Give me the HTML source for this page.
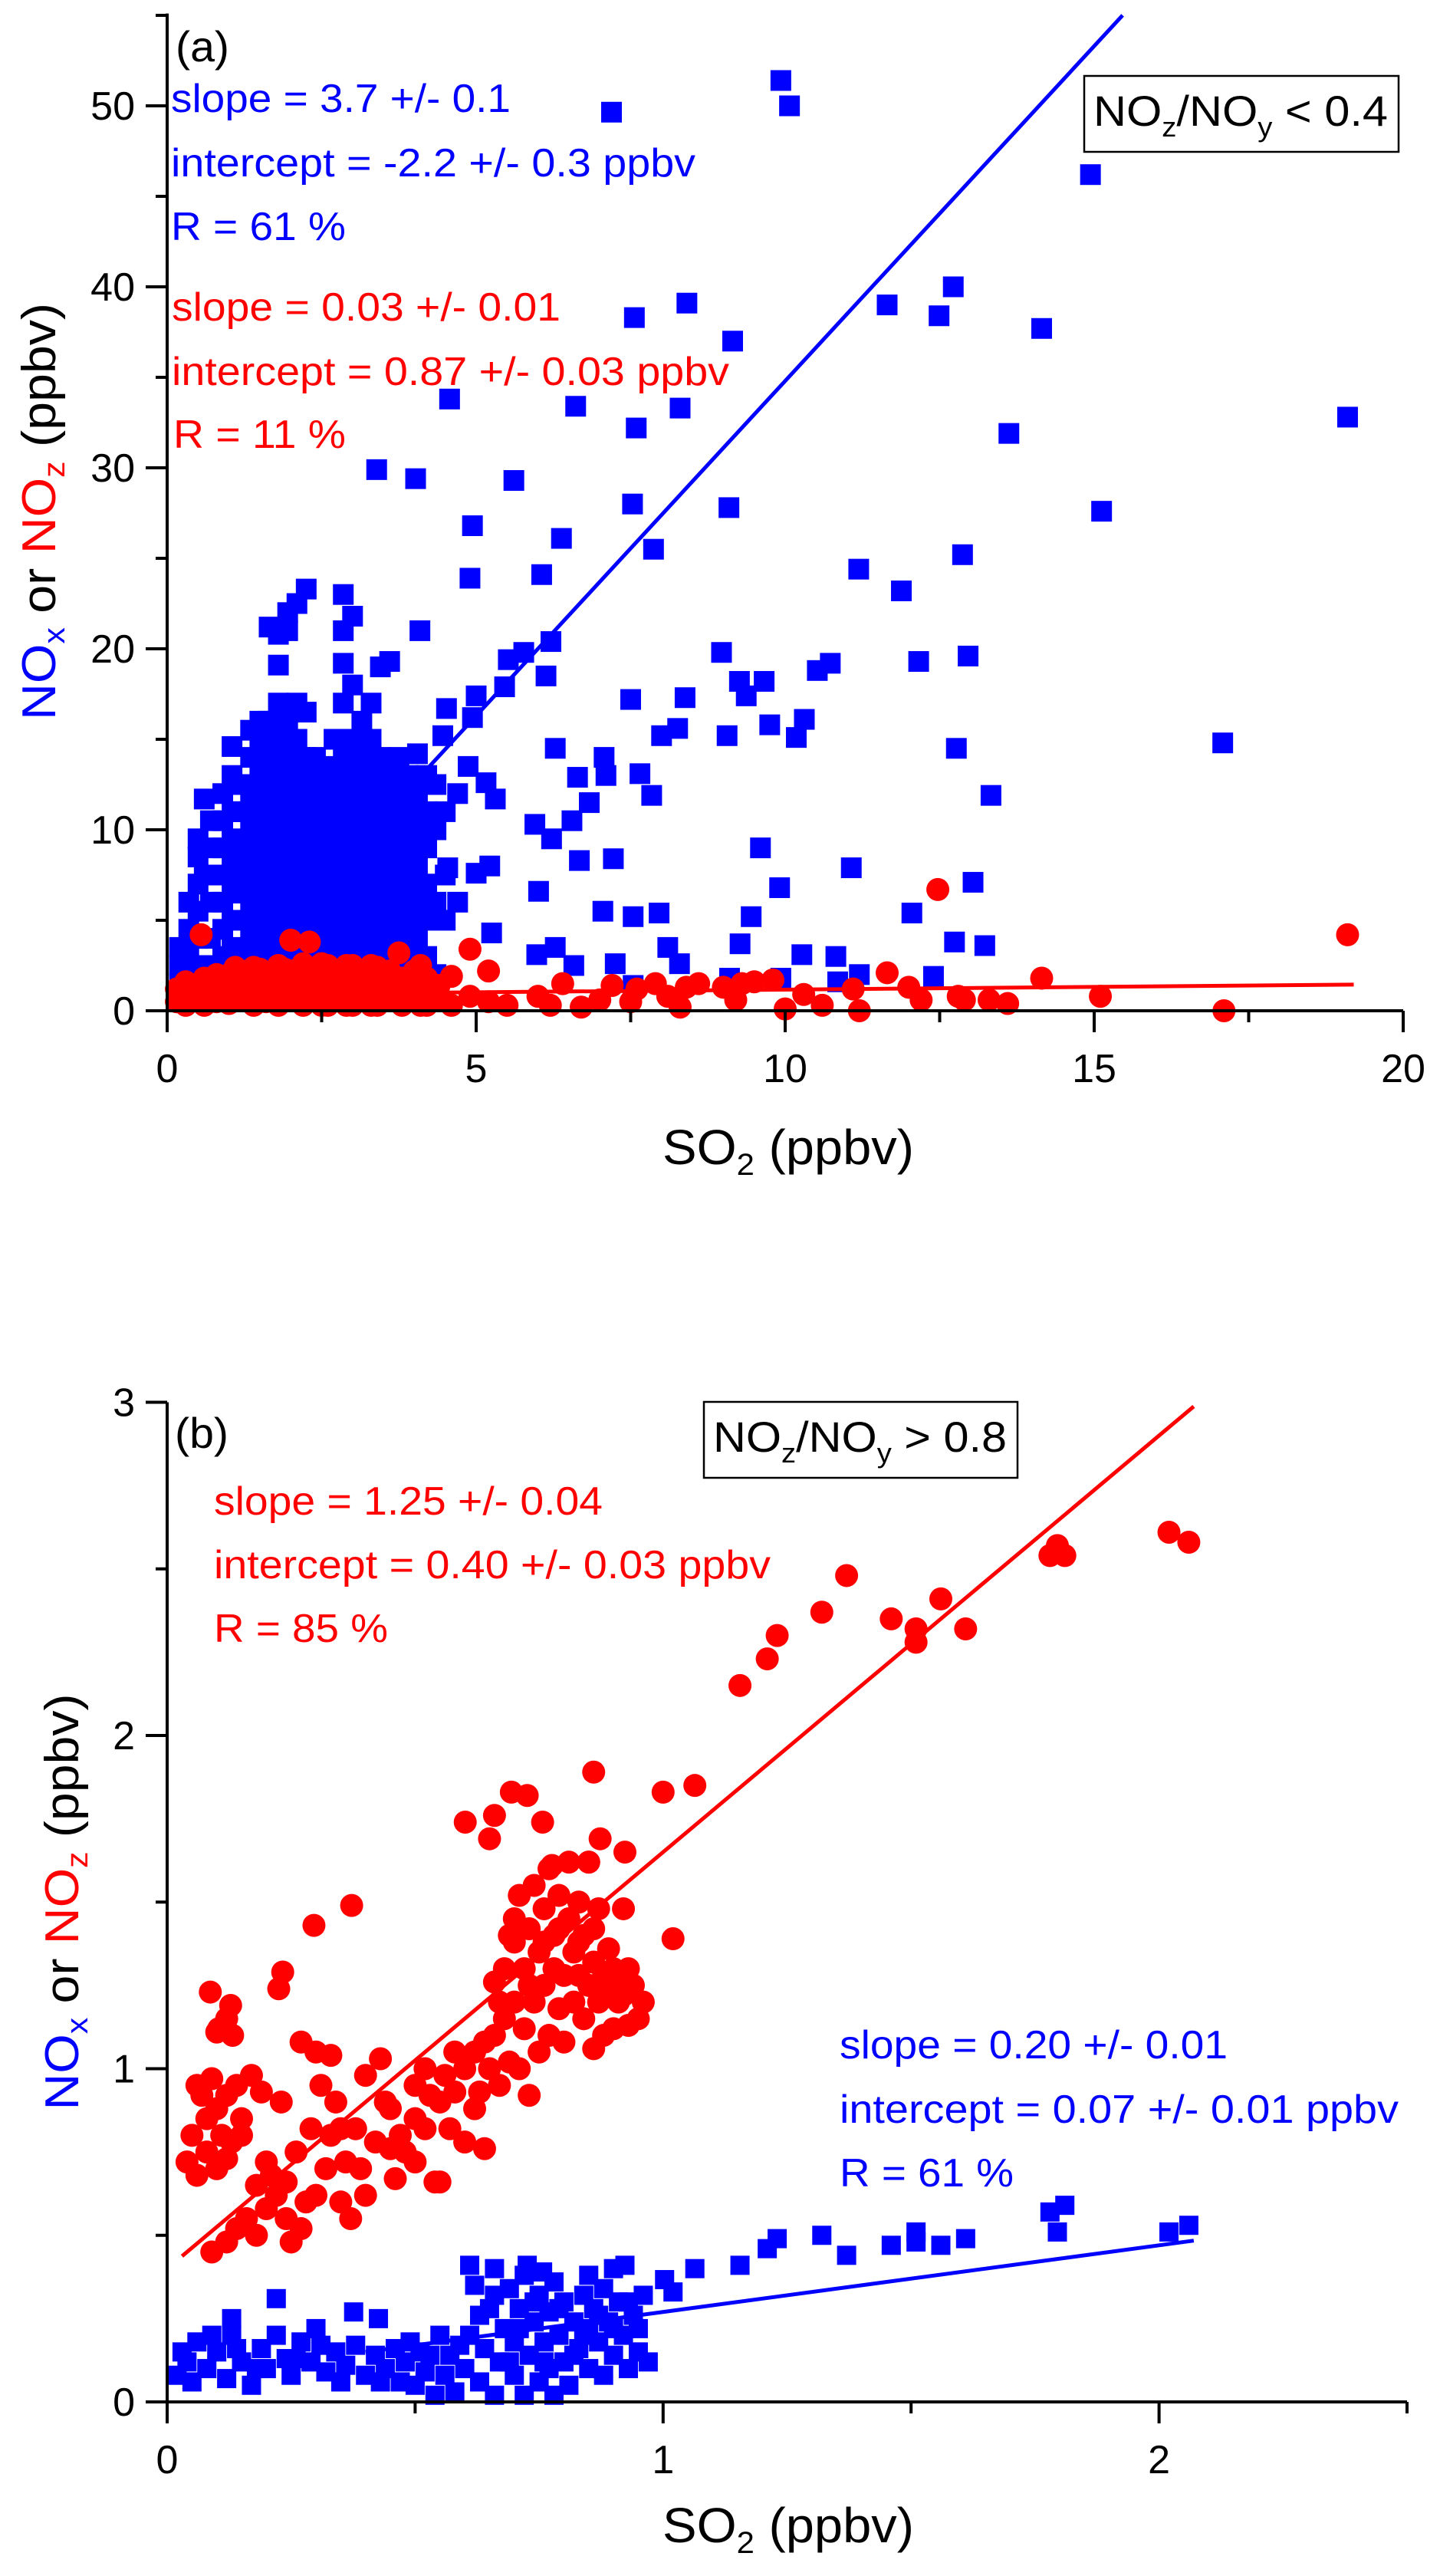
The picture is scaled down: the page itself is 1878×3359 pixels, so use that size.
<!DOCTYPE html>
<html><head><meta charset="utf-8"><style>
html,body{margin:0;padding:0;background:#fff}
svg{display:block}
text{font-family:"Liberation Sans",Arial,sans-serif}
</style></head><body>
<svg id="chart" width="1878" height="3359" viewBox="0 0 1878 3359" xmlns="http://www.w3.org/2000/svg">
<g id="panelA"></g>
<g id="panelB"></g>
</svg>
<script>
// ---------- Panel (a) data ----------
const aXTicks = [0, 5, 10, 15, 20];
const aYTicks = [0, 10, 20, 30, 40, 50];
const aBlueOutliers = [[7.19,49.65],[9.93,51.4],[10.07,50.0],[14.94,46.2],[7.56,38.3],[8.41,39.1],[12.72,40.0],[11.65,39.0],[12.49,38.4],[14.15,37.7],[9.15,37.0],[4.57,33.8],[6.61,33.4],[7.59,32.2],[8.30,33.3],[13.62,31.9],[19.1,32.8],[3.39,29.9],[4.02,29.4],[5.61,29.3],[7.53,28.0],[9.09,27.8],[15.12,27.6],[4.94,26.8],[6.38,26.1],[7.87,25.5],[12.87,25.2],[4.90,23.9],[6.06,24.1],[11.19,24.4],[11.88,23.2],[4.09,21.0],[6.21,20.4],[6.13,18.5],[8.97,19.8],[9.26,18.2],[9.66,18.2],[9.37,17.4],[10.52,18.8],[10.73,19.2],[12.16,19.3],[12.96,19.6],[7.5,17.2],[8.38,17.3],[8.0,15.2],[8.26,15.6],[9.06,15.2],[9.75,15.8],[10.18,15.1],[10.31,16.1],[6.28,14.5],[12.77,14.5],[17.08,14.8],[7.07,14.0],[6.64,12.9],[7.1,13.0],[6.83,11.5],[7.65,13.1],[7.84,11.9],[5.95,10.3],[6.22,9.5],[6.55,10.5],[13.33,11.9],[6.67,8.3],[7.22,8.4],[9.6,9.0],[11.07,7.9],[13.04,7.1],[6.01,6.6],[9.91,6.8],[7.05,5.5],[7.54,5.2],[7.96,5.4],[9.45,5.2],[12.05,5.4],[9.27,3.7],[12.74,3.8],[13.23,3.6],[10.27,3.1],[10.82,3.0],[6.28,3.5],[6.58,2.5],[7.25,2.6],[8.10,3.5],[8.29,2.6],[5.98,3.1],[5.25,4.3],[5.22,8.0],[5.0,7.6],[4.54,7.9],[5.31,11.7],[5.16,12.6],[4.87,13.5],[5.0,17.4],[5.46,17.9],[5.52,19.4],[5.77,19.8],[4.94,16.2],[4.52,16.7],[4.46,15.2],[11.2,2.0],[12.4,1.9],[9.93,1.8],[9.1,1.8],[7.54,1.4],[10.85,1.6]];
const aBlueClusterX = [0.2,0.35,0.5,0.6,0.7,0.9,1.05,1.2,1.35,1.5,1.65,1.8,1.95,2.1,2.25,2.4,2.55,2.7,2.85,3.0,3.15,3.3,3.45,3.6,3.75,3.9,4.05,4.2,4.35,4.5,4.7];
const aBlueClusterY = [[0.5,1.5,2.5,3.5],[1,2,3.2,4.5,6],[1,2.5,4,5.5,7,8.5,9.5],[11.7,7.5],[1,2.5,4,6,7.5,9,10.5],[1.5,3,4.5,6,7.5,9,10.5,12],[2,3.5,5,6.5,8,9.5,11,13,14.6],[1,3,5,7,9,11,12.5],[2,4,6,8,10,12,14,15.5],[1,3,5,7,9,11,13,15,16],[2,4,6,8,10,12,14,16,21.2],[1,3,5,7,9,11,13,15,17,19.1,20.8],[2,4,6,8,10,12,14,16,21,22],[1,3,5,7,9,11,13,15,17,22.5],[2,4,6,8,10,12,14,16.5,23.3],[1,3,5,7,9,11,13,14],[2,4,6,8,10,12,13.5],[1,3,5,7,9,11,13,15],[2,4,6,8,10,12,14,17,19.2,21,23],[1,3,5,7,9,11,13,15,18,21.8],[2,4,6,8,10,12,14,16],[1,3,5,7,9,11,13,15,17],[2,4,6,8,10,12,14,19],[1,3,5,7,9,11,13,19.3],[2,4,6,8,10,12,14],[1,3,5,7,9,11,13],[2,4,6,8,10,12,14.2],[3,5,7,9,11,13],[2,6,10,12.5],[5,7.5,11],[6,12]];
const aRedClusterX = [0.15,0.3,0.45,0.55,0.6,0.8,1.0,1.1,1.2,1.4,1.5,1.6,1.8,1.9,2.0,2.2,2.3,2.4,2.5,2.6,2.8,2.9,3.0,3.2,3.3,3.4,3.6,3.75,3.8,4.0,4.1,4.2,4.4,4.6,4.9,5.2,5.5];
const aRedClusterY = [[0.5,1.2],[0.3,1,1.6],[0.6,1.4],[4.2],[0.3,1,1.8],[0.5,1.3,2.0],[0.4,1.2,2.0],[0.8,1.6,2.4],[0.6,1.4,2.2],[0.3,1.0,1.8,2.4],[0.7,1.5,2.3],[0.5,1.3,2.1],[0.3,1.0,1.8,2.5],[0.7,1.4,2.3],[0.6,1.4,2.2,3.9],[0.3,1.1,1.9,2.6],[3.8,0.7,1.5,2.3],[0.6,1.4,2.2],[0.3,1.0,1.8,2.6],[0.3,1.0,1.8,2.5],[0.6,1.4,2.2],[0.3,1.1,1.8,2.5],[0.3,1.0,1.8,2.5],[0.6,1.4,2.2],[0.3,1.0,1.8,2.5],[0.3,1.0,1.8,2.4],[0.6,1.4,2.2],[3.2],[0.3,1.0,1.8],[0.6,1.4,2.2],[0.3,1.0,1.8,2.5],[0.3,1.0,1.8],[0.6,1.4],[0.3,1.9],[3.4,0.8],[2.2,0.5],[0.3]];
const aRedOutliers = [[6.0,0.8],[6.2,0.3],[6.4,1.5],[6.7,0.2],[7.0,0.6],[7.2,1.4],[7.5,0.5],[7.6,1.2],[7.9,1.5],[8.1,0.8],[8.3,0.2],[8.4,1.3],[8.6,1.5],[9.0,1.3],[9.2,0.6],[9.3,1.5],[9.5,1.6],[9.8,1.7],[10.0,0.1],[10.3,0.9],[10.6,0.3],[11.1,1.2],[11.2,0.0],[11.65,2.1],[12.0,1.3],[12.2,0.6],[12.47,6.7],[12.8,0.8],[12.9,0.6],[13.3,0.6],[13.6,0.4],[14.15,1.8],[15.1,0.8],[17.1,0.0],[19.1,4.2]];
const aBlueFit = [-2.2, 3.7];   // intercept, slope
const aRedFit = [0.87, 0.03];

// ---------- Panel (b) data ----------
const bXTicks = [0, 1, 2];
const bYTicks = [0, 1, 2, 3];
const bRed = [[2.02,2.61],[2.06,2.58],[1.795,2.57],[1.78,2.54],[1.81,2.54],[1.37,2.48],[1.32,2.37],[1.46,2.35],[1.56,2.41],[1.51,2.32],[1.51,2.28],[1.61,2.32],[1.23,2.30],[1.21,2.23],[1.155,2.15],[0.86,1.89],[1.0,1.83],[1.064,1.85],[1.02,1.39],[0.694,1.83],[0.726,1.82],[0.601,1.74],[0.66,1.76],[0.65,1.69],[0.757,1.74],[0.372,1.49],[0.296,1.43],[0.233,1.29],[0.225,1.24],[0.087,1.23],[0.128,1.19],[0.104,1.12],[0.132,1.1],[0.923,1.65],[0.873,1.69],[0.776,1.61],[0.85,1.62],
[0.04,0.72],[0.06,0.68],[0.08,0.75],[0.1,0.70],[0.12,0.73],[0.06,0.95],[0.09,0.97],[0.08,0.85],[0.1,0.88],[0.12,0.92],[0.14,0.95],[0.15,0.85],[0.13,0.78],[0.15,0.8],[0.17,0.98],[0.19,0.93],[0.09,0.45],[0.12,0.48],[0.14,0.52],[0.16,0.55],[0.18,0.50],[0.2,0.58],[0.21,0.68],[0.22,0.62],[0.24,0.55],[0.25,0.48],[0.23,0.9],[0.26,0.75],[0.27,1.08],[0.28,0.6],[0.29,0.82],[0.3,1.05],[0.31,0.95],[0.32,0.7],[0.33,1.04],[0.34,0.9],[0.35,0.82],[0.35,0.6],[0.36,0.72],[0.37,0.55],[0.38,0.82],[0.4,0.98],[0.4,0.62],[0.42,0.78],[0.43,1.03],[0.44,0.9],[0.45,0.88],[0.46,0.67],[0.47,0.8],[0.48,0.75],[0.5,0.85],[0.5,0.95],[0.52,1.0],[0.53,0.92],[0.54,0.66],[0.55,0.9],[0.56,0.98],[0.58,0.93],[0.58,1.05],[0.6,0.78],[0.6,1.0],[0.62,1.05],[0.63,0.93],[0.64,1.08],[0.64,0.76],[0.65,1.0],[0.66,1.1],[0.66,1.26],[0.67,0.95],[0.68,1.15],[0.68,1.3],[0.69,1.02],[0.7,1.2],[0.7,1.45],[0.7,1.38],[0.71,1.0],[0.71,1.52],[0.72,1.12],[0.72,1.3],[0.73,0.92],[0.73,1.42],[0.74,1.2],[0.74,1.55],[0.75,1.05],[0.75,1.35],[0.76,1.25],[0.76,1.48],[0.77,1.1],[0.77,1.6],[0.78,1.3],[0.78,1.4],[0.79,1.18],[0.79,1.52],[0.8,1.08],[0.8,1.28],[0.81,1.45],[0.81,1.62],[0.82,1.2],[0.82,1.35],[0.83,1.5],[0.83,1.28],[0.84,1.15],[0.84,1.4],[0.85,1.62],[0.85,1.25],[0.86,1.06],[0.86,1.32],[0.87,1.48],[0.87,1.2],[0.88,1.1],[0.88,1.28],[0.89,1.36],[0.89,1.25],[0.9,1.12],[0.9,1.3],[0.91,1.2],[0.92,1.22],[0.92,1.48],[0.93,1.13],[0.94,1.25],[0.95,1.15],[0.55,0.66],[0.5,0.72],[0.1,1.11],[0.12,1.15],
[0.05,0.8],[0.07,0.92],[0.11,0.8],[0.18,0.65],[0.2,0.72],[0.24,0.66],[0.27,0.52],[0.3,0.62],[0.33,0.8],[0.39,0.7],[0.45,0.76],[0.52,0.82],[0.57,0.82],[0.62,0.88],[0.67,1.2],[0.69,1.4],[0.73,1.25],[0.76,1.38],[0.79,1.42],[0.83,1.38],[0.86,1.42],[0.91,1.28],[0.93,1.3],[0.96,1.2]];
const bBlue = [[1.003,0.367],[1.02,0.33],[1.064,0.40],[1.155,0.41],[1.21,0.46],[1.23,0.49],[1.32,0.50],[1.37,0.44],[1.46,0.47],[1.51,0.48],[1.51,0.51],[1.56,0.47],[1.61,0.49],[1.78,0.57],[1.81,0.59],[1.795,0.51],[2.02,0.51],[2.06,0.53],[0.376,0.27],[0.426,0.25],[0.22,0.31],[0.13,0.25],[0.61,0.41],[0.66,0.40],[0.726,0.41],[0.757,0.39],[0.923,0.41],
[0.02,0.08],[0.04,0.12],[0.05,0.06],[0.06,0.18],[0.08,0.1],[0.1,0.15],[0.12,0.07],[0.13,0.2],[0.15,0.12],[0.17,0.05],[0.19,0.16],[0.2,0.1],[0.22,0.2],[0.24,0.13],[0.25,0.08],[0.27,0.18],[0.29,0.12],[0.3,0.22],[0.32,0.09],[0.34,0.15],[0.36,0.11],[0.38,0.17],[0.4,0.08],[0.42,0.14],[0.44,0.1],[0.46,0.16],[0.47,0.06],[0.48,0.12],[0.5,0.05],[0.51,0.15],[0.52,0.09],[0.54,0.02],[0.55,0.2],[0.56,0.08],[0.57,0.14],[0.58,0.03],[0.6,0.1],[0.61,0.2],[0.62,0.35],[0.63,0.06],[0.64,0.16],[0.65,0.28],[0.66,0.02],[0.67,0.12],[0.68,0.22],[0.69,0.34],[0.7,0.08],[0.7,0.18],[0.71,0.28],[0.72,0.02],[0.72,0.38],[0.73,0.14],[0.74,0.24],[0.75,0.06],[0.75,0.32],[0.76,0.18],[0.77,0.1],[0.77,0.27],[0.78,0.02],[0.78,0.36],[0.79,0.2],[0.8,0.12],[0.8,0.3],[0.81,0.05],[0.82,0.24],[0.83,0.16],[0.84,0.32],[0.85,0.1],[0.85,0.22],[0.86,0.28],[0.87,0.18],[0.88,0.08],[0.88,0.34],[0.89,0.24],[0.9,0.14],[0.91,0.3],[0.92,0.2],[0.93,0.1],[0.94,0.26],[0.95,0.15],[0.96,0.32],[0.97,0.12],[0.85,0.38],[0.9,0.4],
[0.03,0.15],[0.09,0.2],[0.14,0.16],[0.18,0.1],[0.26,0.13],[0.31,0.17],[0.35,0.06],[0.43,0.06],[0.49,0.18],[0.53,0.14],[0.59,0.17],[0.63,0.26],[0.66,0.32],[0.69,0.12],[0.71,0.22],[0.74,0.3],[0.76,0.12],[0.79,0.28],[0.82,0.14],[0.84,0.2],[0.87,0.26],[0.9,0.22],[0.93,0.3],[0.95,0.22]];
const bRedFit = [0.40, 1.25];
const bBlueFit = [0.07, 0.20];

const NS = 'http://www.w3.org/2000/svg';
function mk(parent, tag, attrs, txt) {
  const e = document.createElementNS(NS, tag);
  for (const k in attrs) e.setAttribute(k, attrs[k]);
  if (txt !== undefined) e.textContent = txt;
  parent.appendChild(e);
  return e;
}
function flatten(xs, ys) { const o = []; xs.forEach((x, i) => ys[i].forEach(y => o.push([x, y]))); return o; }

const axA = { x0: 218, x1: 1830, xmin: 0, xmax: 20, y0: 1318, ymin: 0, ppy: 23.6 };
const axB = { x0: 218, x1: 1835, xmin: 0, xmax: 2.5, y0: 3132, ymin: 0, ppy: 434.5 };
function sx(ax, v) { return ax.x0 + (v - ax.xmin) / (ax.xmax - ax.xmin) * (ax.x1 - ax.x0); }
function sy(ax, v) { return ax.y0 - (v - ax.ymin) * ax.ppy; }

function squares(g, ax, pts, size, name) {
  pts.forEach(p => {
    const r = mk(g, 'rect', { x: sx(ax, p[0]) - size / 2, y: sy(ax, p[1]) - size / 2, width: size, height: size, fill: '#0000ff' });
    
    
  });
}
function circles(g, ax, pts, rad, name) {
  pts.forEach(p => {
    const c = mk(g, 'circle', { cx: sx(ax, p[0]), cy: sy(ax, p[1]), r: rad, fill: '#ff0000' });
    
    
  });
}
function fitLine(g, ax, fit, xa, xb, color, name) {
  const l = mk(g, 'line', { x1: sx(ax, xa), y1: sy(ax, fit[0] + fit[1] * xa), x2: sx(ax, xb), y2: sy(ax, fit[0] + fit[1] * xb), stroke: color, 'stroke-width': 5 });
  
  
}
function axes(g, ax, xt, yt, xminor, yminor, ytop, fmt) {
  const top = sy(ax, ytop);
  const a = mk(g, 'path', { d: `M${ax.x0},${top} V${ax.y0} H${ax.x1}`, stroke: '#000', 'stroke-width': 4, fill: 'none' });
  
  
  xt.forEach(v => {
    mk(g, 'line', { x1: sx(ax, v), x2: sx(ax, v), y1: ax.y0, y2: ax.y0 + 28, stroke: '#000', 'stroke-width': 4 });
    const t = mk(g, 'text', { x: sx(ax, v), y: ax.y0 + 93, 'text-anchor': 'middle', 'font-size': 52 }, fmt(v));
    
    
  });
  xminor.forEach(v => mk(g, 'line', { x1: sx(ax, v), x2: sx(ax, v), y1: ax.y0, y2: ax.y0 + 15, stroke: '#000', 'stroke-width': 4 }));
  yt.forEach(v => {
    mk(g, 'line', { x1: ax.x0 - 28, x2: ax.x0, y1: sy(ax, v), y2: sy(ax, v), stroke: '#000', 'stroke-width': 4 });
    const t = mk(g, 'text', { x: ax.x0 - 42, y: sy(ax, v) + 18, 'text-anchor': 'end', 'font-size': 52 }, fmt(v));
    
    
  });
  yminor.forEach(v => mk(g, 'line', { x1: ax.x0 - 15, x2: ax.x0, y1: sy(ax, v), y2: sy(ax, v), stroke: '#000', 'stroke-width': 4 }));
}
function label(g, x, y, w, color, txt, name, size) {
  const t = mk(g, 'text', { x: x, y: y, fill: color, 'font-size': size || 52, textLength: w, lengthAdjust: 'spacingAndGlyphs' }, txt);
  
  
  return t;
}
function ratioBox(g, x, y, w, h, op, val, name) {
  const r = mk(g, 'rect', { x: x, y: y, width: w, height: h, fill: '#fff', stroke: '#000', 'stroke-width': 2.5 });
  
  
  const t = mk(g, 'text', { x: x + 12, y: y + 65, 'font-size': 56, textLength: w - 26, lengthAdjust: 'spacingAndGlyphs' });
  
  
  t.innerHTML = `NO<tspan font-size="36" dy="14">z</tspan><tspan dy="-14">/NO</tspan><tspan font-size="36" dy="14">y</tspan><tspan dy="-14"> ${op} ${val}</tspan>`;
}
function yTitle(g, x, cy, len) {
  const t = mk(g, 'text', { transform: `translate(${x},${cy}) rotate(-90)`, 'text-anchor': 'middle', 'font-size': 62, textLength: len, lengthAdjust: 'spacingAndGlyphs' });
  
  
  t.innerHTML = `<tspan fill="#0000ff">NO</tspan><tspan fill="#0000ff" font-size="40" dy="12">x</tspan><tspan dy="-12"> or </tspan><tspan fill="#ff0000">NO</tspan><tspan fill="#ff0000" font-size="40" dy="12">z</tspan><tspan dy="-12"> (ppbv)</tspan>`;
}
function xTitle(g, x, y) {
  const t = mk(g, 'text', { x: x, y: y, 'font-size': 64, textLength: 328, lengthAdjust: 'spacingAndGlyphs' });
  
  
  t.innerHTML = `SO<tspan font-size="40" dy="14">2</tspan><tspan dy="-14"> (ppbv)</tspan>`;
}

// ---- Panel A ----
const gA = document.getElementById('panelA');
squares(gA, axA, flatten(aBlueClusterX, aBlueClusterY), 27, 'nox-point');
squares(gA, axA, aBlueOutliers, 27, 'nox-point');
fitLine(gA, axA, aBlueFit, 0.59, 15.46, '#0000ff', 'nox-fit-line');
circles(gA, axA, flatten(aRedClusterX, aRedClusterY), 15, 'noz-point');
circles(gA, axA, aRedOutliers, 15, 'noz-point');
fitLine(gA, axA, aRedFit, 0.1, 19.2, '#ff0000', 'noz-fit-line');
axes(gA, axA, aXTicks, aYTicks, [2.5, 7.5, 12.5, 17.5], [5, 15, 25, 35, 45, 55], 55.1, v => String(v));
label(gA, 229, 80, 70, '#000', '(a)', 'panel-label-a', 56);
label(gA, 223, 146, 443, '#0000ff', 'slope = 3.7 +/- 0.1', 'nox-slope-text');
label(gA, 223, 230, 684, '#0000ff', 'intercept = -2.2 +/- 0.3 ppbv', 'nox-intercept-text');
label(gA, 223, 313, 228, '#0000ff', 'R = 61 %', 'nox-r-text');
label(gA, 224, 418, 507, '#ff0000', 'slope = 0.03 +/- 0.01', 'noz-slope-text');
label(gA, 224, 502, 727, '#ff0000', 'intercept = 0.87 +/- 0.03 ppbv', 'noz-intercept-text');
label(gA, 226, 584, 225, '#ff0000', 'R = 11 %', 'noz-r-text');
ratioBox(gA, 1414, 99, 410, 99, '<', '0.4', 'ratio-box-a');
yTitle(gA, 72, 667, 544);
xTitle(gA, 864, 1518);

// ---- Panel B ----
const gB = document.getElementById('panelB');
circles(gB, axB, bRed, 15, 'noz-point');
fitLine(gB, axB, bRedFit, 0.03, 2.07, '#ff0000', 'noz-fit-line');
squares(gB, axB, bBlue, 25, 'nox-point');
fitLine(gB, axB, bBlueFit, 0.4, 2.07, '#0000ff', 'nox-fit-line');
axes(gB, axB, bXTicks, bYTicks, [0.5, 1.5, 2.5], [0.5, 1.5, 2.5], 3, v => String(v));
label(gB, 228, 1888, 70, '#000', '(b)', 'panel-label-b', 56);
label(gB, 279, 1975, 507, '#ff0000', 'slope = 1.25 +/- 0.04', 'noz-slope-text');
label(gB, 279, 2058, 726, '#ff0000', 'intercept = 0.40 +/- 0.03 ppbv', 'noz-intercept-text');
label(gB, 279, 2141, 227, '#ff0000', 'R = 85 %', 'noz-r-text');
label(gB, 1095, 2684, 506, '#0000ff', 'slope = 0.20 +/- 0.01', 'nox-slope-text');
label(gB, 1095, 2768, 729, '#0000ff', 'intercept = 0.07 +/- 0.01 ppbv', 'nox-intercept-text');
label(gB, 1095, 2851, 227, '#0000ff', 'R = 61 %', 'nox-r-text');
ratioBox(gB, 918, 1828, 409, 99, '>', '0.8', 'ratio-box-b');
yTitle(gB, 102, 2480, 543);
xTitle(gB, 864, 3315);
</script>
</body></html>
